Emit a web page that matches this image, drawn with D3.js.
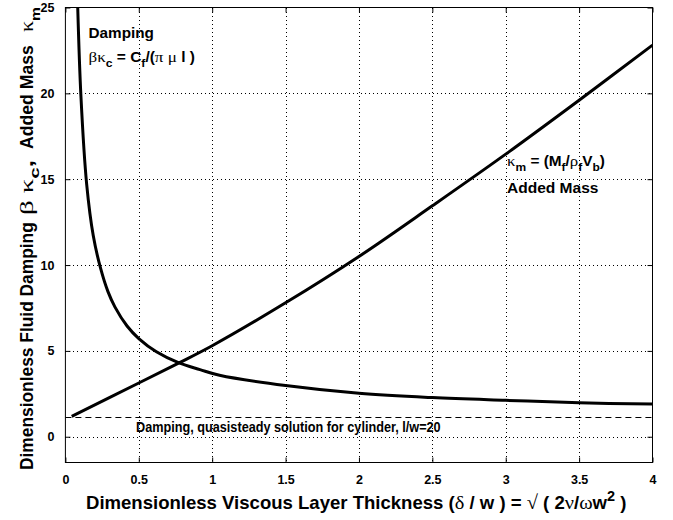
<!DOCTYPE html>
<html>
<head>
<meta charset="utf-8">
<script src="https://cdn.jsdelivr.net/npm/d3@7"></script>
<style>
  html, body { margin: 0; padding: 0; background: #fff; }
  svg { display: block; }
  text { font-family: "Liberation Sans", Arial, Helvetica, sans-serif; font-weight: bold; fill: #000; }
  .sym { font-family: "Liberation Serif", "Times New Roman", serif; font-weight: normal; }
</style>
</head>
<body>
<svg id="chart" width="673" height="520"></svg>
<script>
// ---- data ----
const xTicks = [0, 0.5, 1, 1.5, 2, 2.5, 3, 3.5, 4];
const xTickLabels = ["0", "0.5", "1", "1.5", "2", "2.5", "3", "3.5", "4"];
const yTicks = [0, 5, 10, 15, 20, 25];
const yTickLabels = ["0", "5", "10", "15", "20", "25"];

// Damping curve  beta*kappa_c
const dampX = [0.084, 0.106, 0.145, 0.19, 0.24, 0.29, 0.338, 0.42, 0.5, 0.62, 0.774, 0.917, 1.05, 1.5, 2.0, 2.5, 3.0, 3.5, 4.0];
const dampY = [25, 19.8, 14.7, 11.7, 9.8, 8.45, 7.55, 6.45, 5.72, 4.95, 4.30, 3.91, 3.58, 2.98, 2.53, 2.28, 2.12, 1.98, 1.90];

// Added mass curve  kappa_m
const massX = [0.043, 0.5, 0.774, 1.0, 1.5, 2.0, 2.5, 3.0, 3.5, 4.0];
const massY = [1.19, 3.13, 4.30, 5.3, 7.8, 10.5, 13.45, 16.46, 19.6, 22.81];

// Quasi-steady damping for cylinder, l/w = 20
const quasiSteady = [1.12];

// ---- layout ----
const svg = d3.select("#chart");
const L = 65.4, R = 652.5, T = 7.5, B = 462.5;
const x = d3.scaleLinear().domain([0, 4]).range([L, R]);
const y = d3.scaleLinear().domain([-1.5, 25]).range([B, T]);

svg.append("defs").append("clipPath").attr("id", "plotclip")
  .append("rect").attr("x", L).attr("y", T).attr("width", R - L).attr("height", B - T);

// grid (dotted)
const grid = svg.append("g").attr("stroke", "#000").attr("stroke-width", 1)
  .attr("stroke-dasharray", "1,3").attr("shape-rendering", "crispEdges");
xTicks.slice(1, -1).forEach(t => grid.append("line")
  .attr("x1", Math.round(x(t)) + 0.5).attr("x2", Math.round(x(t)) + 0.5)
  .attr("y1", T).attr("y2", B));
yTicks.forEach(t => { if (t > -1.5 && t < 25) grid.append("line")
  .attr("y1", Math.round(y(t)) + 0.5).attr("y2", Math.round(y(t)) + 0.5)
  .attr("x1", L).attr("x2", R); });

// axes with inward ticks
const tickLen = 5;
const axB = svg.append("g").attr("transform", `translate(0,${B})`)
  .call(d3.axisBottom(x).tickValues(xTicks).tickFormat((d, i) => xTickLabels[i]).tickSizeInner(-tickLen).tickSizeOuter(0).tickPadding(13));
const axT = svg.append("g").attr("transform", `translate(0,${T})`)
  .call(d3.axisTop(x).tickValues(xTicks).tickFormat("").tickSizeInner(-tickLen).tickSizeOuter(0));
const axL = svg.append("g").attr("transform", `translate(${L},0)`)
  .call(d3.axisLeft(y).tickValues(yTicks).tickFormat((d, i) => yTickLabels[i]).tickSizeInner(-tickLen).tickSizeOuter(0).tickPadding(11));
const axR = svg.append("g").attr("transform", `translate(${R},0)`)
  .call(d3.axisRight(y).tickValues(yTicks).tickFormat("").tickSizeInner(-tickLen).tickSizeOuter(0));
[axB, axT, axL, axR].forEach(a => {
  a.select(".domain").remove();
  a.selectAll("line").attr("stroke", "#000");
  a.selectAll("text").attr("font-size", 12.5).attr("font-family", null).attr("fill", "#000");
});
axB.selectAll("text").attr("dy", "0.71em");

// frame
svg.append("rect").attr("x", L).attr("y", T).attr("width", R - L).attr("height", B - T)
  .attr("fill", "none").attr("stroke", "#000").attr("stroke-width", 1);

// quasi-steady dashed line
svg.append("line")
  .attr("x1", x(0)).attr("x2", x(4)).attr("y1", y(quasiSteady[0])).attr("y2", y(quasiSteady[0]))
  .attr("stroke", "#000").attr("stroke-width", 1.2).attr("stroke-dasharray", "6,4");

// curves
const line = d3.line().curve(d3.curveCatmullRom.alpha(0.5)).x(d => x(d[0])).y(d => y(d[1]));
const plot = svg.append("g").attr("clip-path", "url(#plotclip)");
plot.append("path").datum(dampX.map((v, i) => [v, dampY[i]]))
  .attr("d", line).attr("fill", "none").attr("stroke", "#000").attr("stroke-width", 3);
plot.append("path").datum(massX.map((v, i) => [v, massY[i]]))
  .attr("d", line).attr("fill", "none").attr("stroke", "#000").attr("stroke-width", 3);

// helper: text with tspans (parts: [text, kind]) kind: "b" bold, "s" symbol, "sub", "sup"
function richText(g, parts, size) {
  const t = g.append("text").attr("font-size", size);
  parts.forEach(([s, k]) => {
    const sp = t.append("tspan").text(s);
    if (k === "s") sp.attr("class", "sym").attr("font-size", size * 1.1);
    if (k === "sub") sp.attr("font-size", size * 0.78).attr("baseline-shift", -size * 0.35);
    if (k === "sup") sp.attr("font-size", size * 0.78).attr("baseline-shift", size * 0.42);
  });
  return t;
}
// fit a horizontal text to [x0, x1] with baseline yb
function fitH(parts, size, x0, x1, yb) {
  const g = svg.append("g");
  const t = richText(g, parts, size);
  const w = t.node().getComputedTextLength();
  g.attr("transform", `translate(${x0},${yb}) scale(${(x1 - x0) / w},1)`);
  return g;
}
// fit a vertical (rotated) text piece from y0 (bottom) to y1 (top), baseline at xb
function fitV(parts, size, y0, y1, xb) {
  const g = svg.append("g");
  const t = richText(g, parts, size);
  const w = t.node().getComputedTextLength();
  g.attr("transform", `translate(${xb},${y0}) rotate(-90) scale(${(y0 - y1) / w},1)`);
  return g;
}

fitH([["Damping", "b"]], 14, 88.5, 154, 37.7);
fitH([["βκ", "s"], ["c", "sub"], [" = C", "b"], ["f", "sub"], ["/(", "b"], ["π μ", "s"], [" l )", "b"]], 14, 88.5, 195, 62);
fitH([["κ", "s"], ["m", "sub"], [" = (M", "b"], ["f", "sub"], ["/", "b"], ["ρ", "s"], ["f", "sub"], ["V", "b"], ["b", "sub"], [")", "b"]], 14, 507, 605, 166);
fitH([["Added Mass", "b"]], 14.5, 507, 598.5, 192.5);
fitH([["Damping, quasisteady solution for cylinder, l/w=20", "b"]], 14.5, 136, 441, 432);

// x label
fitH([["Dimensionless Viscous Layer Thickness (", "b"], ["δ", "s"], [" / w ) = ", "b"], ["√", "s"], [" ( 2", "b"], ["ν", "s"], ["/", "b"], ["ω", "s"], ["w", "b"], ["2", "sup"], [" )", "b"]], 18, 86, 627, 509);

// y label (vertical), in pieces
fitV([["Dimensionless Fluid Damping", "b"]], 17.5, 470, 222, 33);
fitV([["β κ", "s"], ["c", "sub"], [",", "b"]], 17.5, 215, 160, 33);
fitV([["Added Mass", "b"]], 17.5, 149, 45, 33);
fitV([["κ", "s"], ["m", "sub"]], 17.5, 32, 7, 33);
</script>
</body>
</html>
